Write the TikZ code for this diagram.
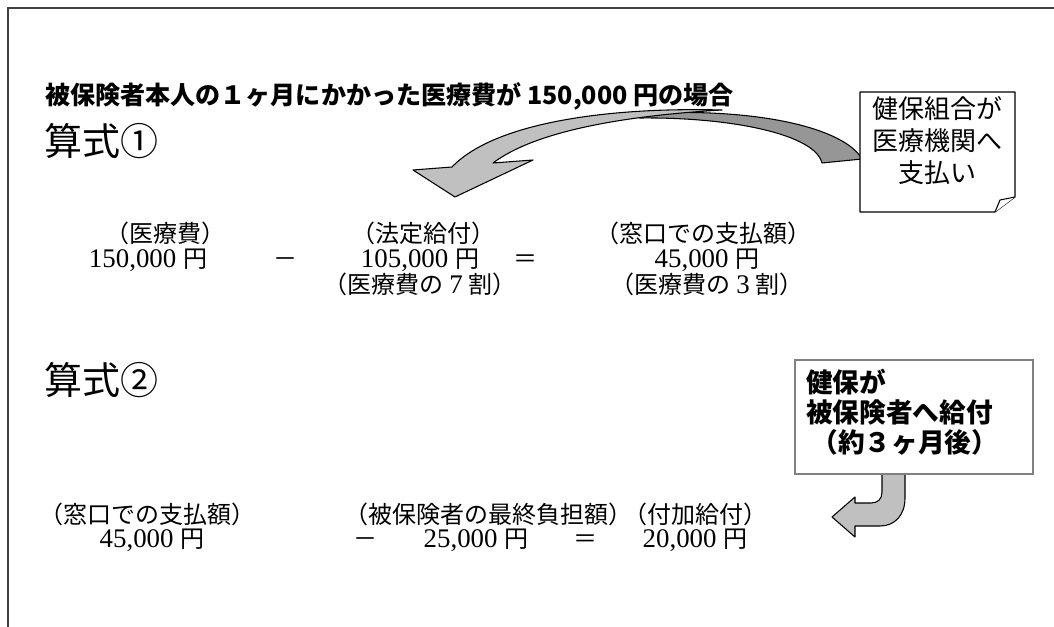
\documentclass[tikz,border=0pt]{standalone}
\usepackage{fontspec}
\newfontfamily\cjk{Noto Sans CJK JP}
\newfontfamily\numfont{Liberation Serif}[Scale=1.12]
\newcommand\dg[1]{{\numfont #1}}
\definecolor{lightg}{HTML}{C0C0C0}
\definecolor{darkg}{HTML}{969696}
\definecolor{boxg}{HTML}{808080}
\definecolor{framec}{HTML}{404040}
\begin{document}
\begin{tikzpicture}[x=0.75pt,y=-0.75pt,
  body/.style={font=\cjk\fontsize{18}{21}\selectfont, inner sep=0pt, anchor=center,
               text height=0.8em, text depth=0.05em},
  head/.style={font=\cjk\fontsize{28.5}{34}\selectfont, inner sep=0pt, anchor=west},
  title/.style={font=\cjk\bfseries\fontsize{18.8}{22}\selectfont, inner sep=0pt, anchor=west},
  arrowshape/.style={draw=black, line width=0.8pt, line join=round},
]
\useasboundingbox (0,0) rectangle (1054,627);
% frame
\draw[framec, line width=1.2pt] (8,627) -- (8,8) -- (1054,8);

% title and headings
\node[title] (ttl) at (45,96) {被保険者本人の１ヶ月にかかった医療費が 150,000 円の場合};
\node[head] (h1) at (44,141) {算式①};
\node[head] (h2) at (44,380) {算式②};

% curved arrow (note -> formula 1)
\path[arrowshape, fill=darkg] (630,114) .. controls (760,106) and (845,129) .. (862,159)
   -- (822,163) .. controls (815,134) and (730,117) .. (640,118) -- cycle;
\path[arrowshape, fill=lightg] (452,167) .. controls (495,122) and (610,107) .. (722,110)
   .. controls (620,116) and (534,132) .. (493,163)
   -- (533,160) -- (455,197) -- (413,170) -- cycle;

% note with folded corner
\path[arrowshape, fill=white] (860,92) -- (1015,92) -- (1015,197) -- (995,212) -- (860,212) -- cycle;
\path[arrowshape, fill=white] (995,212) -- (1000,200) -- (1015,197);
\node[font=\cjk\fontsize{19.5}{24}\selectfont, align=center, inner sep=0pt] (note) at (937,141)
  {健保組合が\\医療機関へ\\支払い};

% formula 1
\node[body] (a1) at (165,238) {（医療費）};
\node[body] (a2) at (148,263) {\dg{150,000 }円};
\node[body] (m1) at (285,263) {－};
\node[body] (b1) at (423,238) {（法定給付）};
\node[body] (b2) at (420,263) {\dg{105,000 }円};
\node[body] (b3) at (420,289) {（医療費の \dg{7} 割）};
\node[body] (e1) at (525,263) {＝};
\node[body] (c1) at (703,238) {（窓口での支払額）};
\node[body] (c2) at (707,263) {\dg{45,000 }円};
\node[body] (c3) at (707,289) {（医療費の \dg{3} 割）};

% formula 2
\node[body] (d1) at (148,518) {（窓口での支払額）};
\node[body] (d2) at (152,542) {\dg{45,000 }円};
\node[body] (m2) at (365,542) {－};
\node[body] (f1) at (488,518) {（被保険者の最終負担額）};
\node[body] (f2) at (476,542) {\dg{25,000 }円};
\node[body] (e2) at (585,542) {＝};
\node[body] (g1) at (695,518) {（付加給付）};
\node[body] (g2) at (695,542) {\dg{20,000 }円};

% U-turn arrow from box
\path[arrowshape, fill=lightg] (882,470) -- (882,492) .. controls (882,499) and (878,503) .. (871,503)
   -- (855,503) -- (855,497) -- (832,517) -- (855,537) -- (855,526) -- (880,526)
   .. controls (895,526) and (905,515) .. (905,498) -- (905,470);

% benefit box
\draw[boxg, line width=1.6pt, fill=white] (795,360) rectangle (1033,474);
\node[font=\cjk\bfseries\fontsize{20}{22.5}\selectfont, align=left, inner sep=0pt, anchor=north west] (box) at (806,369)
  {健保が\\被保険者へ給付\\\hspace*{0.2em}（約３ヶ月後）};
\end{tikzpicture}
\end{document}
